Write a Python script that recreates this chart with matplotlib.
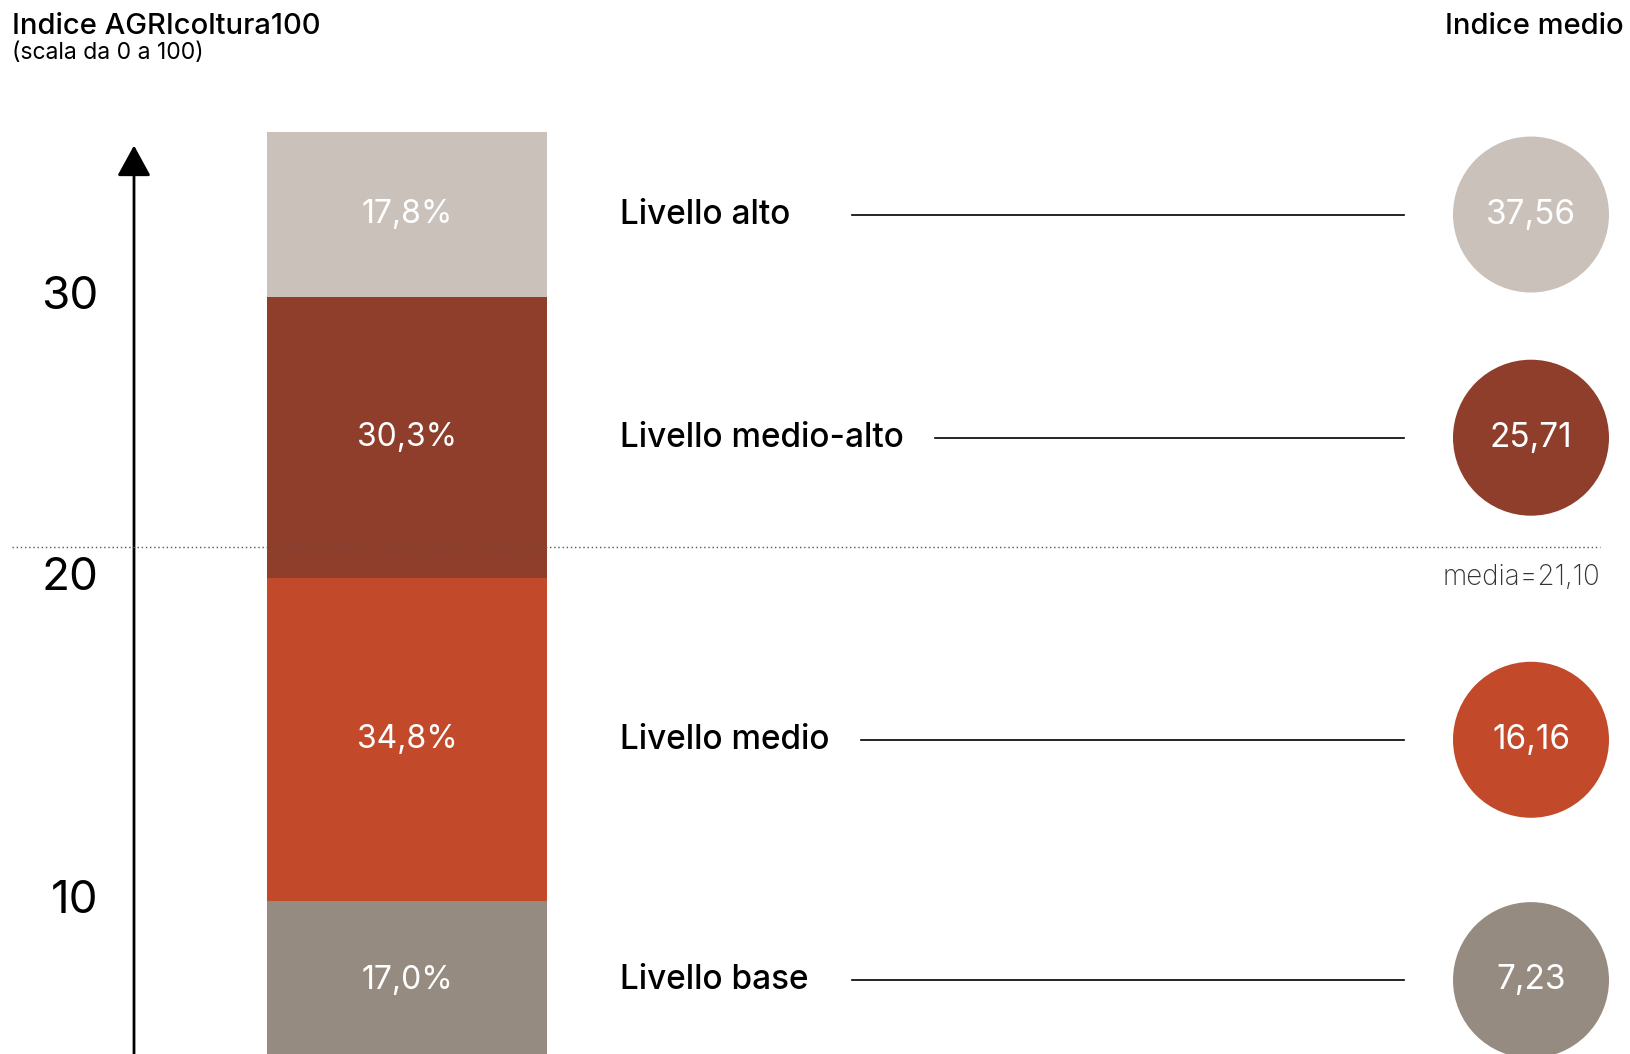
import matplotlib.pyplot as plt
import numpy as np

# data (bottom to top)
levels = ['Livello base', 'Livello medio', 'Livello medio-alto', 'Livello alto']
shares = [17.0, 34.8, 30.3, 17.8]          # % of farms in each level
index_means = [7.23, 16.16, 25.71, 37.56]  # average index per level
thresholds = [10, 20, 30]                  # index thresholds between levels
media = 21.10
colors = ['#968B81', '#C2492A', '#8E3E2B', '#CAC1BA']

plt.rcParams['font.family'] = ['Inter', 'Lato', 'DejaVu Sans']

W, H = 1630, 1054
fig = plt.figure(figsize=(W / 100, H / 100), dpi=100)
ax = fig.add_axes([0, 0, 1, 1])
ax.axis('off')

# vertical scale: cumulative share, 9.28 px per %, bar top at 131 px
px_per = 9.28
top_px = 131
ax.set_xlim(0, W)
ax.set_ylim(100 - (H - top_px) / px_per, 100 + top_px / px_per)

def fmt(v, nd):
    return f"{v:.{nd}f}".replace('.', ',')

cum = np.cumsum([0] + shares)
bottoms = cum[:-1]
centers = bottoms + np.array(shares) / 2

# stacked bar
bar_x, bar_w = 407, 280
ax.bar([bar_x] * len(shares), shares, bottom=bottoms, width=bar_w, color=colors, zorder=1)
for c, s in zip(centers, shares):
    ax.text(bar_x, c, fmt(s, 1) + '%', ha='center', va='center', color='white', fontsize=23, zorder=3)

# vertical arrow
ax.annotate('', xy=(134, 98.44), xytext=(134, -2),
            arrowprops=dict(arrowstyle='-|>,head_length=0.95,head_width=0.52', mutation_scale=20,
                            lw=2, color='black', shrinkA=0, shrinkB=0))

# threshold labels at the boundaries between levels
for t, b in zip(thresholds, cum[1:-1]):
    ax.text(98, b, str(t), ha='right', va='center', fontsize=33)

# mean line
y_media = np.interp(media, thresholds, cum[1:-1])
ax.plot([12, 1600], [y_media, y_media], ls=(0, (1, 2)), lw=1, color='#555555', zorder=4)
ax.annotate('media=' + fmt(media, 2), xy=(1600, y_media), xytext=(0, -22), textcoords='offset points',
            ha='right', va='center', fontsize=20, fontweight='light', color='#333333')

# level labels with connecting lines
fig.canvas.draw()
renderer = fig.canvas.get_renderer()
inv = ax.transData.inverted()
for lab, c in zip(levels, centers):
    t = ax.text(620, c, lab, ha='left', va='center', fontsize=24, fontweight='medium')
    bb = t.get_window_extent(renderer)
    x_end = inv.transform((bb.x1, 0))[0]
    x0 = max(852, x_end + 31)
    ax.plot([x0, 1404], [c, c], color='black', lw=1.2)

# circles with average index
circ_x = 1531
ax.scatter([circ_x] * len(centers), centers, s=(156 * 0.72) ** 2, c=colors, linewidths=0, zorder=2)
for c, v in zip(centers, index_means):
    ax.text(circ_x, c, fmt(v, 2), ha='center', va='center', color='white', fontsize=24, zorder=3)

# headers
fig.text(12 / W, 1 - 27 / H, 'Indice AGRIcoltura100', ha='left', va='center', fontsize=21, fontweight='medium')
fig.text(12 / W, 1 - 53 / H, '(scala da 0 a 100)', ha='left', va='center', fontsize=16.5)
fig.text(1624 / W, 1 - 27 / H, 'Indice medio', ha='right', va='center', fontsize=21, fontweight='medium')

fig.savefig('out.png', dpi=100)
